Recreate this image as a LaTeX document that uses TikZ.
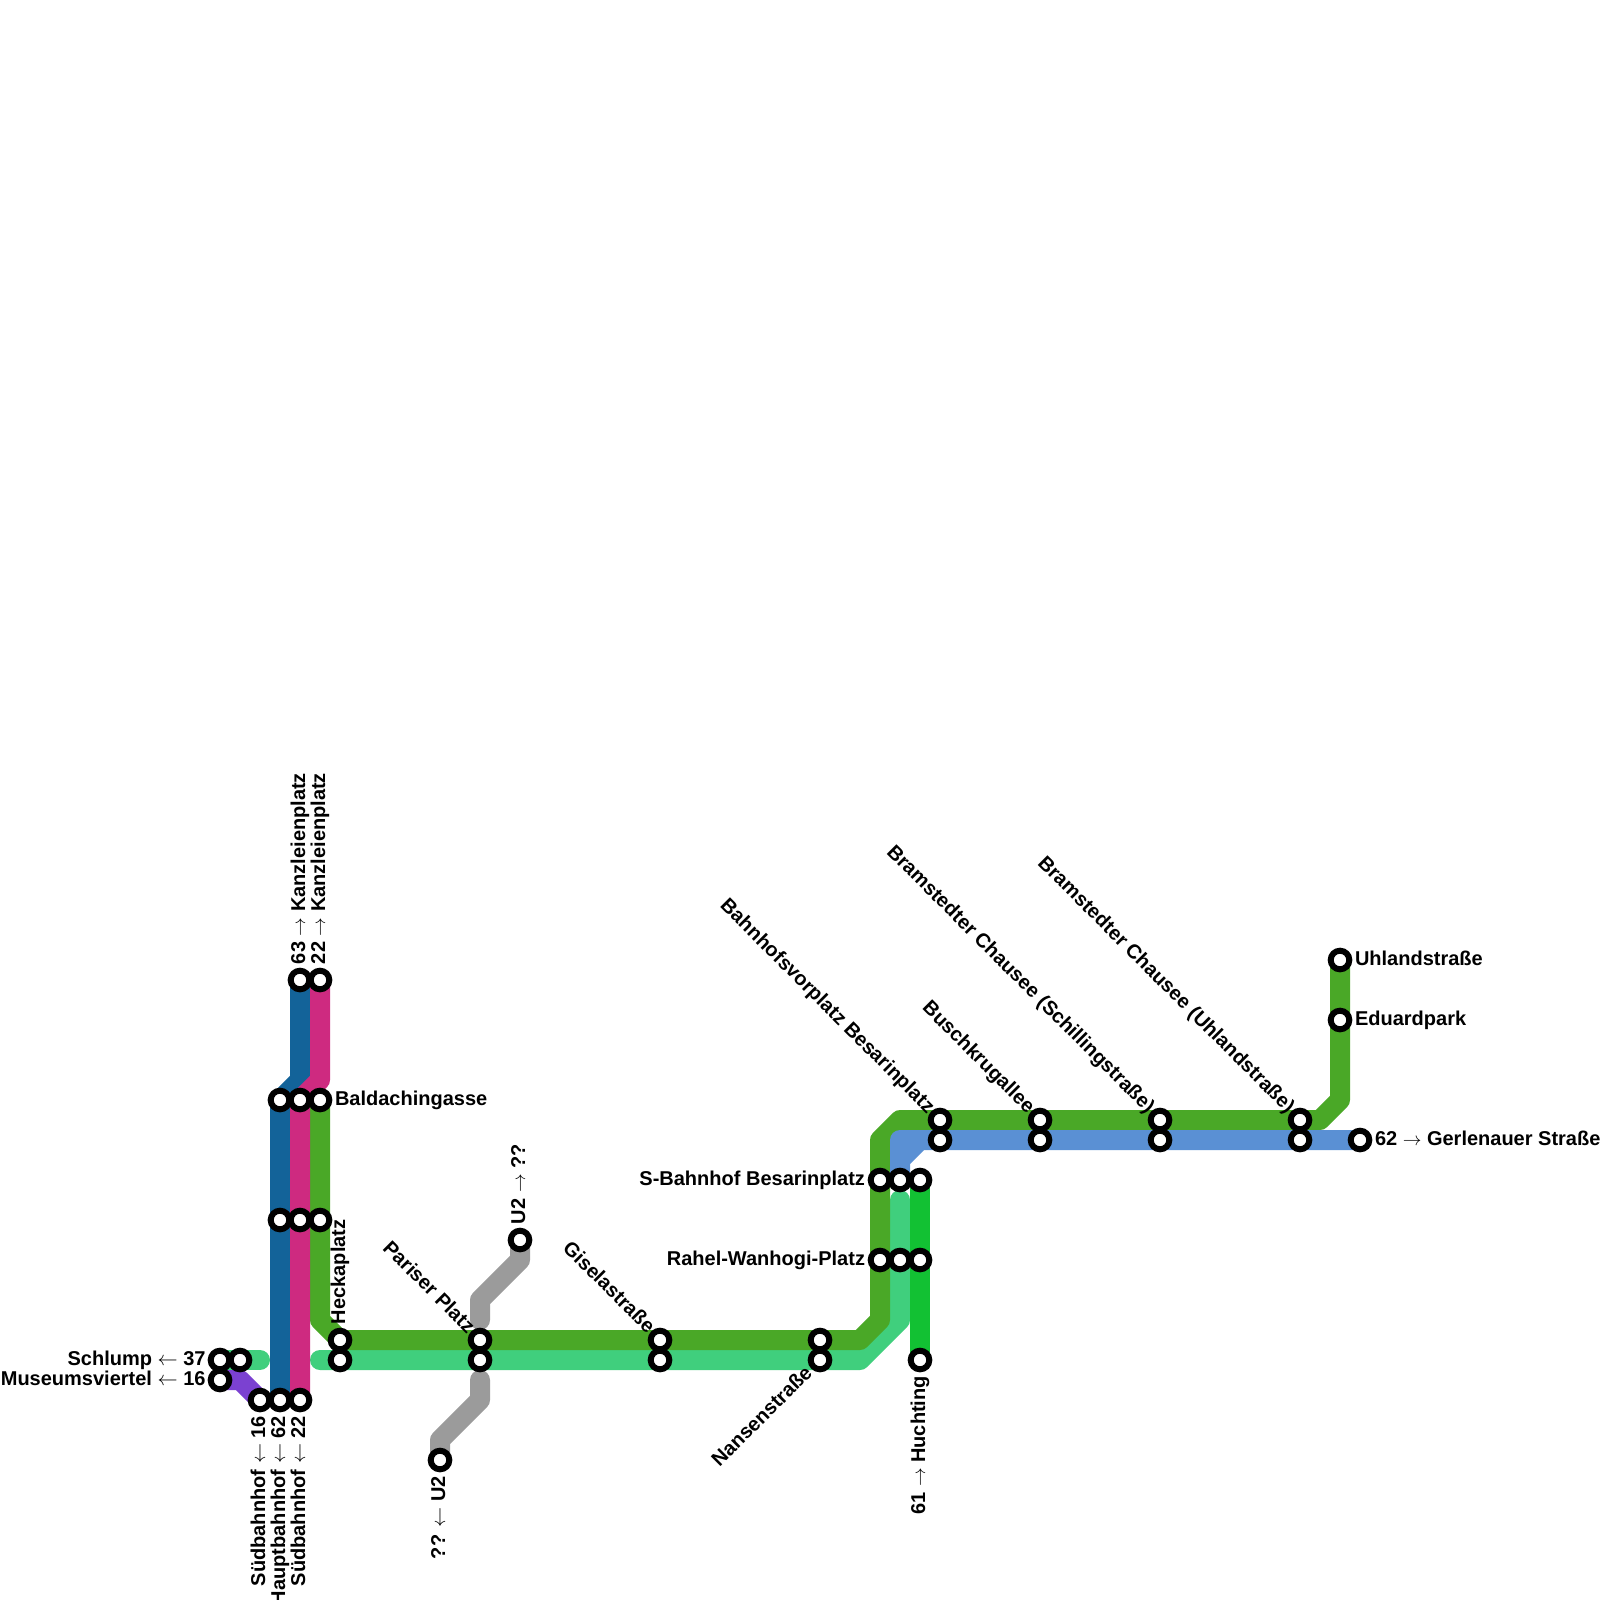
\documentclass[tikz,border=0pt]{standalone}
\usepackage{fontspec}
\setmainfont{Liberation Sans}[BoldFont={Liberation Sans Bold}]
\usetikzlibrary{backgrounds}
\definecolor{cDark}{HTML}{136399}
\definecolor{cMag}{HTML}{CE2A80}
\definecolor{cGreen}{HTML}{4AA827}
\definecolor{cLight}{HTML}{40CF7D}
\definecolor{cBright}{HTML}{12C133}
\definecolor{cBlue}{HTML}{5A90D4}
\definecolor{cGrey}{HTML}{9B9B9B}
\definecolor{cPurple}{HTML}{7B41D1}
\newcommand\lbl[1]{\raisebox{-2.5pt}{#1}}
\newcommand\rar{\mbox{\scalebox{0.9}{$\rightarrow$}}}
\newcommand\lar{\mbox{\scalebox{0.97}{$\leftarrow$}}}
\tikzset{
  st/.style={circle,draw=black,fill=white,line width=6pt,minimum size=18.6pt,inner sep=0pt,outer sep=0pt},
  ln/.style={line width=20pt,line join=round,line cap=butt},
  lnr/.style={line width=20pt,line join=round,line cap=round},
  tx/.style={inner sep=0pt,outer sep=0pt,font=\fontsize{20}{20}\selectfont\bfseries,text=black},
}
\begin{document}
\begin{tikzpicture}[x=1pt,y=-1pt]
\useasboundingbox (0,0) rectangle (1600,1600);
% stations
\foreach \n/\x/\y in {a1/220/1360,a2/240/1360,a3/220/1380,b1/260/1400,b2/280/1400,b3/300/1400,
 c1/280/1220,c2/300/1220,c3/320/1220,d1/280/1100,d2/300/1100,d3/320/1100,e1/300/980,e2/320/980,
 f1/340/1340,f2/340/1360,g1/480/1340,g2/480/1360,h1/660/1340,h2/660/1360,i1/820/1340,i2/820/1360,
 j1/520/1240,j2/440/1460,k1/880/1180,k2/900/1180,k3/920/1180,l1/880/1260,l2/900/1260,l3/920/1260,
 m/920/1360,n1/940/1120,n2/940/1140,o1/1040/1120,o2/1040/1140,p1/1160/1120,p2/1160/1140,
 q1/1300/1120,q2/1300/1140,r/1360/1140,s1/1340/960,s2/1340/1020}
 {\node[st] (\n) at (\x,\y) {};}
\coordinate (lgA) at (260,1360);
\coordinate (lgB) at (320,1360);
\coordinate (lgC) at (900,1200);
\coordinate (grA) at (480,1320);
\coordinate (grB) at (480,1380);
\begin{scope}[on background layer]
\fill[white] (0,0) rectangle (1600,1600);
% light green
\draw[lnr,cLight] (a1.center) -- (lgA);
\draw[lnr,cLight] (lgB) -- (860,1360) -- (900,1320) -- (lgC);
% green
\draw[ln,cGreen] (s1.center) -- (1340,1100) -- (1320,1120) -- (900,1120) -- (880,1140) -- (880,1320) -- (860,1340) -- (340,1340) -- (320,1320) -- (d3.center);
% blue
\draw[ln,cBlue] (r.center) -- (920,1140) -- (900,1160) -- (k2.center);
\draw[ln,cBlue] (k2.center) -- (900,1140) -- (920,1140);
% bright
\draw[ln,cBright] (k3.center) -- (m.center);
% dark, magenta
\draw[ln,cDark] (e1.center) -- (300,1080) -- (280,1100) -- (b2.center);
\draw[ln,cMag] (e2.center) -- (320,1080) -- (300,1100) -- (b3.center);
% purple
\draw[ln,cPurple] (a3.center) -- (240,1380) -- (b1.center);
% grey
\draw[lnr,cGrey] (j1.center) -- (520,1260) -- (480,1300) -- (grA);
\draw[lnr,cGrey] (grB) -- (480,1400) -- (440,1440) -- (j2.center);
\end{scope}
% labels
\node[tx,rotate=90,anchor=mid west] (t1) at ([yshift=16pt]e1.center) {\lbl{63 \rar{} Kanzleienplatz}};
\node[tx,rotate=90,anchor=mid west] (t2) at ([yshift=16pt]e2.center) {\lbl{22 \rar{} Kanzleienplatz}};
\node[tx,anchor=mid west] (t3) at ([xshift=15pt]d3.center) {\lbl{Baldachingasse}};
\node[tx,rotate=90,anchor=mid west] (t4) at ([yshift=16pt]f1.center) {\lbl{Heckaplatz}};
\node[tx,anchor=mid east] (t5) at ([xshift=-14.5pt]a1.center) {\lbl{Schlump \lar{} 37}};
\node[tx,anchor=mid east] (t6) at ([xshift=-14.5pt]a3.center) {\lbl{Museumsviertel \lar{} 16}};
\node[tx,rotate=90,anchor=mid east] (t7) at ([yshift=-16pt]b1.center) {\lbl{Südbahnhof \lar{} 16}};
\node[tx,rotate=90,anchor=mid east] (t8) at ([yshift=-16pt]b2.center) {\lbl{Hauptbahnhof \lar{} 62}};
\node[tx,rotate=90,anchor=mid east] (t9) at ([yshift=-16pt]b3.center) {\lbl{Südbahnhof \lar{} 22}};
\node[tx,rotate=-45,anchor=mid east] (t10) at ([xshift=-9.5pt,yshift=9.5pt]g1.center) {\lbl{Pariser Platz}};
\node[tx,rotate=90,anchor=mid west] (t11) at ([yshift=16pt]j1.center) {\lbl{U2 \rar{} ??}};
\node[tx,rotate=90,anchor=mid east] (t12) at ([yshift=-16pt]j2.center) {\lbl{?? \lar{} U2}};
\node[tx,rotate=-45,anchor=mid east] (t13) at ([xshift=-9.5pt,yshift=9.5pt]h1.center) {\lbl{Giselastraße}};
\node[tx,rotate=45,anchor=mid east] (t14) at ([xshift=-10.5pt,yshift=-10.5pt]i2.center) {\lbl{Nansenstraße}};
\node[tx,anchor=mid east] (t15) at ([xshift=-15pt]k1.center) {\lbl{S-Bahnhof Besarinplatz}};
\node[tx,anchor=mid east] (t16) at ([xshift=-15pt]l1.center) {\lbl{Rahel-Wanhogi-Platz}};
\node[tx,rotate=90,anchor=mid east] (t17) at ([yshift=-16pt]m.center) {\lbl{61 \rar{} Huchting}};
\node[tx,rotate=-45,anchor=mid east] (t18) at ([xshift=-9.5pt,yshift=9.5pt]n1.center) {\lbl{Bahnhofsvorplatz Besarinplatz}};
\node[tx,rotate=-45,anchor=mid east] (t19) at ([xshift=-9.5pt,yshift=9.5pt]o1.center) {\lbl{Buschkrugallee}};
\node[tx,rotate=-45,anchor=mid east] (t20) at ([xshift=-9.5pt,yshift=9.5pt]p1.center) {\lbl{Bramstedter Chausee (Schillingstraße)}};
\node[tx,rotate=-45,anchor=mid east] (t21) at ([xshift=-9.5pt,yshift=9.5pt]q1.center) {\lbl{Bramstedter Chausee (Uhlandstraße)}};
\node[tx,anchor=mid west] (t22) at ([xshift=15pt]s1.center) {\lbl{Uhlandstraße}};
\node[tx,anchor=mid west] (t23) at ([xshift=15pt]s2.center) {\lbl{Eduardpark}};
\node[tx,anchor=mid west] (t24) at ([xshift=15pt]r.center) {\lbl{62 \rar{} Gerlenauer Straße}};
\end{tikzpicture}
\end{document}
